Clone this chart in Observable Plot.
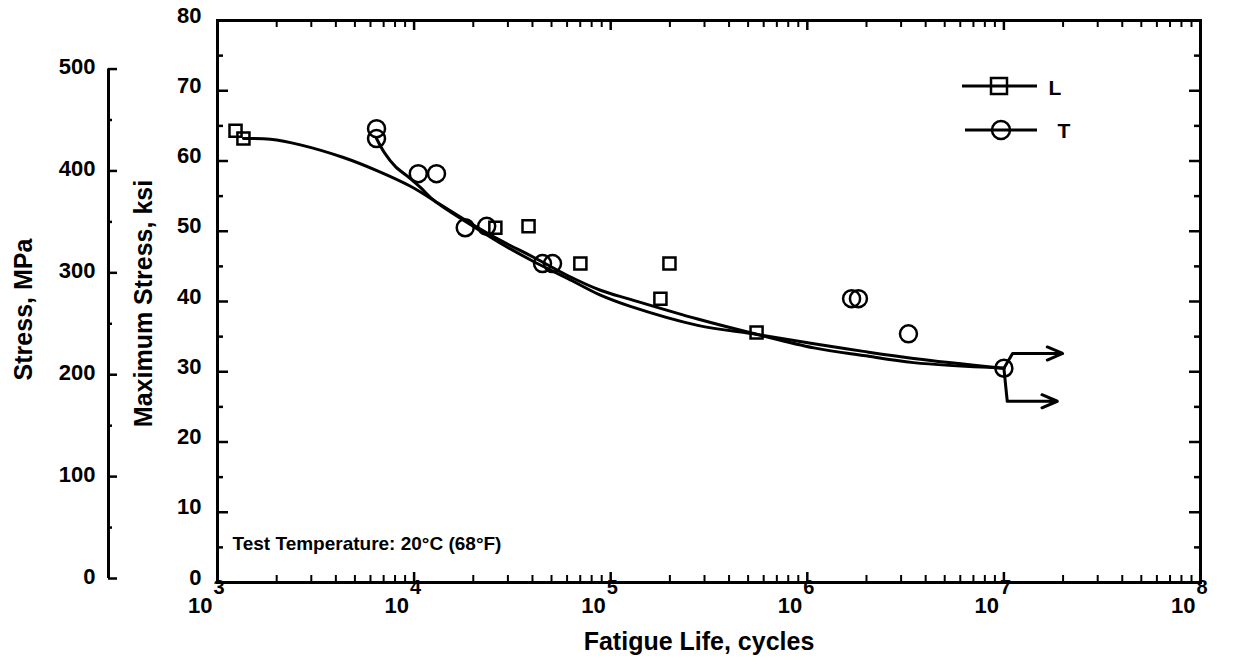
<!DOCTYPE html>
<html><head><meta charset="utf-8">
<script src="https://cdn.jsdelivr.net/npm/d3@7"></script>
<script src="https://cdn.jsdelivr.net/npm/@observablehq/plot@0.6"></script>
<style>html,body{margin:0;padding:0;background:#fff;}</style>
</head><body><div id="chart"></div>
<script>
// ---- data (fatigue life in cycles, max stress in ksi) ----
const lCycles = [1235, 1355, 25900, 38200, 70100, 199000, 179000, 552000];
const lStress = [64.3, 63.2, 50.5, 50.7, 45.4, 45.4, 40.4, 35.6];
const tCycles = [6440, 6440, 10500, 13000, 18200, 23400, 45000, 50600, 1680000, 1820000, 3270000, 10000000];
const tStress = [64.6, 63.2, 58.2, 58.2, 50.5, 50.7, 45.4, 45.4, 40.4, 40.4, 35.4, 30.5];

const lFitCycles = [1355, 1860, 2640, 4370, 6510, 9590, 13600, 18700, 27500, 40500, 60300, 88700, 126000, 277000, 558000, 1080000, 1930000, 3470000, 10000000];
const lFitStress = [63.2, 63.1, 62.3, 60.5, 58.6, 56.4, 53.8, 51.4, 48.7, 46.3, 43.7, 41.6, 40.3, 37.5, 35.3, 33.4, 32.3, 31.3, 30.5];
const tFitCycles = [6440, 7060, 8040, 9370, 10800, 12600, 18700, 27500, 40500, 60300, 88700, 126000, 277000, 558000, 1080000, 1930000, 3470000, 10000000];
const tFitStress = [63.2, 61.2, 59.2, 57.7, 56.2, 54.4, 51.2, 48.3, 45.7, 43.3, 40.9, 39.3, 36.6, 35.3, 34.0, 32.9, 31.9, 30.5];

// runout arrows (specimen at 1e7 cycles did not fail)
const runoutStartCycles = [10000000, 10000000];
const runoutStartStress = [30.5, 30.5];
const runoutBendCycles = [11070000, 10400000];
const runoutLevels = [32.6, 25.8];
const runoutEndCycles = [19900000, 18700000];

// ---- axes / labels ----
const decadeExponents = [3, 4, 5, 6, 7, 8];
const minorMultipliers = [2, 3, 4, 5, 6, 7, 8, 9];
const ksiTicks = [0, 10, 20, 30, 40, 50, 60, 70, 80];
const ksiMinor = [5, 15, 25, 35, 45, 55, 65, 75];
const mpaTicks = [0, 100, 200, 300, 400, 500];
const mpaMinor = [50, 150, 250, 350, 450];
const MPA_PER_KSI = 6.894757;
const xTitle = "Fatigue Life, cycles";
const yTitle = "Maximum Stress, ksi";
const y2Title = "Stress, MPa";
const note = "Test Temperature: 20°C (68°F)";
const seriesNames = ["L", "T"];

// ---- build tables ----
const decades = decadeExponents.map(e => 10 ** e);
const minorX = decadeExponents.slice(0, -1).flatMap(e => minorMultipliers.map(m => m * 10 ** e));
const lPts = lCycles.map((c, i) => ({c, s: lStress[i]}));
const tPts = tCycles.map((c, i) => ({c, s: tStress[i]}));
const lFit = lFitCycles.map((c, i) => ({c, s: lFitStress[i]}));
const tFit = tFitCycles.map((c, i) => ({c, s: tFitStress[i]}));
const runouts = runoutLevels.map((lv, i) => ({x0: runoutStartCycles[i], y0: runoutStartStress[i], xb: runoutBendCycles[i], y: lv, xe: runoutEndCycles[i]}));

const W = 1235, H = 670, mL = 217, mR = 35, mT = 20, mB = 88;
const pw = W - mL - mR, ph = H - mT - mB;
const FONT = "'Liberation Sans', Arial, Helvetica, sans-serif";

function legend() {
  const g = d3.create("svg:g").attr("stroke", "black").attr("fill", "none").attr("stroke-width", 3);
  g.append("line").attr("x1", 962).attr("x2", 1037).attr("y1", 86).attr("y2", 86);
  g.append("rect").attr("x", 991).attr("y", 78).attr("width", 16).attr("height", 16).attr("stroke-width", 2.5);
  g.append("line").attr("x1", 965).attr("x2", 1037).attr("y1", 130).attr("y2", 130);
  g.append("circle").attr("cx", 1001).attr("cy", 130).attr("r", 9).attr("stroke-width", 2.5);
  const t = g.append("g").attr("stroke", "none").attr("fill", "black")
    .attr("font-family", FONT).attr("font-weight", "bold").attr("font-size", 21);
  t.append("text").attr("x", 1055).attr("y", 95).text(seriesNames[0]);
  t.append("text").attr("x", 1064).attr("y", 138).text(seriesNames[1]);
  return g.node();
}

const chart = Plot.plot({
  width: W, height: H,
  marginLeft: mL, marginRight: mR, marginTop: mT, marginBottom: mB,
  x: {type: "log", domain: [1e3, 1e8], axis: null},
  y: {domain: [0, 80], axis: null},
  style: {fontFamily: FONT, fontWeight: "bold", fontSize: "22px", background: "white", color: "black", overflow: "visible"},
  marks: [
    // frame ticks (inward)
    Plot.tickX(decades, {x: d => d, insetTop: ph - 10, strokeWidth: 2.5}),
    Plot.tickX(minorX, {x: d => d, insetTop: ph - 7, strokeWidth: 2}),
    Plot.tickX(decades, {x: d => d, insetBottom: ph - 10, strokeWidth: 2.5}),
    Plot.tickX(minorX, {x: d => d, insetBottom: ph - 7, strokeWidth: 2}),
    Plot.tickY(ksiTicks, {y: d => d, insetRight: pw - 11, strokeWidth: 2.5}),
    Plot.tickY(ksiMinor, {y: d => d, insetRight: pw - 6, strokeWidth: 2.5}),
    Plot.tickY(ksiTicks, {y: d => d, insetLeft: pw - 11, strokeWidth: 2.5}),
    Plot.tickY(ksiMinor, {y: d => d, insetLeft: pw - 6, strokeWidth: 2.5}),
    Plot.frame({stroke: "black", strokeWidth: 3}),
    // ksi labels
    Plot.text(ksiTicks, {y: d => d, text: d => String(d), frameAnchor: "left", dx: -16, dy: -5, textAnchor: "end"}),
    // x labels 10^n
    Plot.text(decades, {x: d => d, text: () => "10", frameAnchor: "bottom", dx: -5, dy: 30, textAnchor: "end"}),
    Plot.text(decadeExponents, {x: e => 10 ** e, text: e => String(e), frameAnchor: "bottom", dx: -4, dy: 11, textAnchor: "start", fontSize: 20}),
    // secondary MPa axis
    Plot.ruleX([1e3], {x: d => d, y1: 0, y2: mpaTicks[mpaTicks.length - 1] / MPA_PER_KSI, dx: -109, dy: -4, strokeWidth: 3}),
    Plot.tickY(mpaTicks, {y: d => d / MPA_PER_KSI, insetRight: pw - 9, dx: -109, dy: -4, strokeWidth: 2.5}),
    Plot.tickY(mpaMinor, {y: d => d / MPA_PER_KSI, insetRight: pw - 4, dx: -109, dy: -4, strokeWidth: 2.5}),
    Plot.text(mpaTicks, {y: d => d / MPA_PER_KSI, text: d => String(d), frameAnchor: "left", dx: -122, dy: -6, textAnchor: "end"}),
    // titles
    Plot.text([xTitle], {text: d => d, frameAnchor: "bottom", dx: -10, dy: 67, fontSize: 25}),
    Plot.text([yTitle], {text: d => d, frameAnchor: "left", textAnchor: "middle", dx: -74, dy: 2, rotate: -90, fontSize: 25}),
    Plot.text([y2Title], {text: d => d, frameAnchor: "left", textAnchor: "middle", dx: -194, dy: 8, rotate: -90, fontSize: 25}),
    Plot.text([note], {text: d => d, frameAnchor: "bottom-left", dx: 15, dy: -33, textAnchor: "start", fontSize: 19}),
    // fit curves
    Plot.line(lFit, {x: "c", y: "s", curve: "catmull-rom", stroke: "black", strokeWidth: 3}),
    Plot.line(tFit, {x: "c", y: "s", curve: "catmull-rom", stroke: "black", strokeWidth: 3}),
    // runout arrows
    Plot.link(runouts, {x1: "x0", y1: "y0", x2: "xb", y2: "y", stroke: "black", strokeWidth: 3}),
    Plot.arrow(runouts, {x1: "xb", y1: "y", x2: "xe", y2: "y", stroke: "black", strokeWidth: 3, headLength: 26, headAngle: 46}),
    // data points
    Plot.dot(lPts, {x: "c", y: "s", symbol: "square", r: 6.8, stroke: "black", strokeWidth: 2.5, fill: "none"}),
    Plot.dot(tPts, {x: "c", y: "s", symbol: "circle", r: 8.5, stroke: "black", strokeWidth: 2.5, fill: "none"}),
    legend
  ]
});
document.getElementById("chart").append(chart);
</script>
</body></html>
